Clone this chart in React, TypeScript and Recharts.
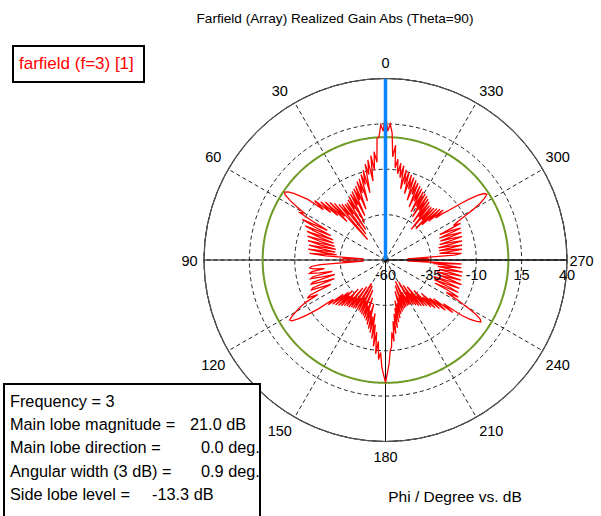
import React from 'react';
import { RadarChart, Radar, PolarGrid, PolarAngleAxis, PolarRadiusAxis } from 'recharts';

const TITLE = 'Farfield (Array) Realized Gain Abs (Theta=90)';
const LEGEND_LABEL = 'farfield (f=3) [1]';
const AXIS_CAPTION = 'Phi / Degree vs. dB';

const FREQUENCY = 3;
const MAIN_LOBE_MAGNITUDE = 21.0;
const MAIN_LOBE_DIRECTION = 0.0;
const ANGULAR_WIDTH = 0.9;
const SIDE_LOBE_LEVEL = -13.3;

const ANGLE_TICKS = [0, 30, 60, 90, 120, 150, 180, 210, 240, 270, 300, 330];
const RADIUS_TICKS = [-60, -35, -10, 15, 40];
const RADIUS_DOMAIN = [-60, 40];
const PHI_STEP = 1;

// Realized gain (dB), phi = 0..89
const gainQ1 = [
  21, 11, 14.5, 8, 7, -6, 0, -10, -2, -16,
  -4, -12, -6, -22, -9, -17, -11, -26, -13, -21,
  -14, -30, -16, -24, -17, -33, -18, -26, -19, -36,
  -20, -27, -21, -40, -22, -29, -22, -42, -21, -28,
  -20, -45, -18, -27, -16, -30, -14, -24, -12, -20,
  -9, -16, -6, -2, 2.5, 5.5, 7, 6, 2, -3,
  -8, -6, -14, -24, -9, -17, -27, -12, -19, -29,
  -14, -21, -30, -15, -22, -31, -16, -23, -32, -17,
  -24, -32, -17, -25, -33, -18, -27, -48, -37, -36,
];
// phi = 90..179
const gainQ2 = [
  -35.5, -36, -37, -48, -24, -19, -18, -20, -26, -19,
  -17.5, -23, -30, -19, -17.5, -24, -31, -18, -17, -24,
  -30, -17, -16, -22, -27, -14, -12, -18, -10, -6,
  -3, 0, 2.3, 1.5, -2, -7, -14, -24, -20, -30,
  -22, -33, -23, -35, -24, -32, -25, -38, -26, -33,
  -27, -40, -27, -34, -28, -42, -28, -35, -28.5, -45,
  -29, -36, -28.5, -44, -28, -35, -27.5, -42, -27, -33,
  -26, -38, -25, -31, -23, -35, -21, -28, -19, -30,
  -16, -24, -12, -20, -8, -15, -5, -9, -1, 3,
];
// phi = 180..269
const gainQ3 = [
  7.5, 2, -3, -10, -12, -20, -15, -26, -19, -30,
  -22, -33, -25, -37, -27, -35, -29, -42, -30, -38,
  -31, -45, -31.5, -39, -32, -47, -32, -40, -32, -37,
  -32, -46, -31, -39, -30, -43, -29, -37, -28, -41,
  -27, -34, -26, -37, -24, -31, -22, -33, -20, -28,
  -17, -26, -13, -20, -8, -3, 0.5, 2.6, 1.5, -2,
  -8, -15, -22, -15, -21, -30, -16, -22, -31, -16.5,
  -23, -32, -16, -22, -30, -17, -24, -31, -17, -23,
  -30, -17, -24, -31, -18, -25, -34, -18, -48, -37,
];
// phi = 270..359
const gainQ4 = [
  -35.5, -36, -37, -48, -22, -18, -24, -30, -17.5, -23,
  -30, -17, -23, -30, -16.5, -22, -29, -16, -21, -28,
  -15.5, -21, -28, -15, -20, -27, -14, -18, -15, -10,
  -4, 1, 4.5, 6.6, 5.5, 2, -3, -9, -15, -19,
  -24, -18, -28, -19, -32, -20, -36, -21, -30, -21.5,
  -38, -21.5, -30, -20, -34, -19, -27, -18, -32, -17.5,
  -26, -17, -30, -16, -24, -15, -28, -14, -21, -13,
  -25, -12, -19, -11, -22, -10, -17, -9, -20, -7,
  -14, -6, -12, -4, -9, 3.5, -3, 10, 15, 11,
];

const gain = [...gainQ1, ...gainQ2, ...gainQ3, ...gainQ4];
const sideLobeRef = MAIN_LOBE_MAGNITUDE + SIDE_LOBE_LEVEL;

const data = gain.map((g, i) => ({
  phi: i * PHI_STEP,
  gain: g,
  sll: sideLobeRef,
  dir: i * PHI_STEP === MAIN_LOBE_DIRECTION ? RADIUS_DOMAIN[1] : RADIUS_DOMAIN[0],
}));

const W = 601;
const H = 516;
const CX = 385.5;
const CY = 260;
const R = 181.5;
const START_ANGLE = 90;
const FONT = '"Liberation Sans", Arial, sans-serif';
// main axes (phi = 0, 90, 180, 270) drawn solid, expressed in chart angles
const MAIN_AXES = [0, 90, 180, 270].map((p) => (START_ANGLE + p) % 360);

const AngleTick = (props: any) => {
  const { x, y, payload } = props;
  const dx0 = x - CX;
  const dy0 = y - CY;
  const d = Math.hypot(dx0, dy0) || 1;
  const ux = dx0 / d;
  const uy = dy0 / d;
  const sx = Math.abs(ux) < 0.05 ? 0 : Math.sign(ux);
  const sy = Math.abs(uy) < 0.05 ? 0 : Math.sign(uy);
  let ox = 0;
  let oy = 0;
  if (sx === 0) {
    oy = sy * 15.5;
  } else if (sy === 0) {
    ox = sx * 14.5;
    oy = 1;
  } else {
    ox = sx * 15;
    oy = sy < 0 ? -12 : 14;
  }
  const px = x - ux * 8 + ox;
  const py = y - uy * 8 + oy;
  return (
    <text x={px} y={py} textAnchor="middle" dominantBaseline="central" fontFamily={FONT} fontSize={14.5} fill="#000">
      {payload.value}
    </text>
  );
};

const RadiusTick = (props: any) => {
  const { x, y, payload } = props;
  return (
    <text x={x} y={y + 15} textAnchor="middle" dominantBaseline="central" fontFamily={FONT} fontSize={14.5} fill="#000">
      {payload.value}
    </text>
  );
};

const infoLines = [
  { label: `Frequency = ${FREQUENCY}`, value: '', vx: 0 },
  { label: 'Main lobe magnitude =', value: `${MAIN_LOBE_MAGNITUDE.toFixed(1)} dB`, vx: 190 },
  { label: 'Main lobe direction =', value: `${MAIN_LOBE_DIRECTION.toFixed(1)} deg.`, vx: 201 },
  { label: 'Angular width (3 dB) =', value: `${ANGULAR_WIDTH.toFixed(1)} deg.`, vx: 201 },
  { label: 'Side lobe level =', value: `${SIDE_LOBE_LEVEL.toFixed(1)} dB`, vx: 152 },
];

export default function App() {
  return (
    <div style={{ position: 'absolute', left: 0, top: 0, width: W, height: H, background: '#fff' }}>
      <RadarChart
        width={W}
        height={H}
        data={data}
        cx={CX}
        cy={CY}
        innerRadius={0}
        outerRadius={R}
        startAngle={START_ANGLE}
        endAngle={START_ANGLE + 360}
        margin={{ top: 0, right: 0, bottom: 0, left: 0 }}
      >
        <PolarGrid gridType="circle" stroke="#222" strokeDasharray="4 3" />
        <PolarGrid gridType="circle" stroke="#111" polarAngles={MAIN_AXES} polarRadius={[R]} />
        <PolarAngleAxis
          dataKey="phi"
          type="number"
          domain={[0, 360]}
          ticks={ANGLE_TICKS}
          tick={AngleTick}
          tickLine={false}
          tickSize={8}
          axisLineType="circle"
          axisLine={{ stroke: '#555', strokeWidth: 1.2 }}
        />
        <Radar dataKey="sll" stroke="#6f9a26" strokeWidth={2} fill="none" fillOpacity={0} dot={false} isAnimationActive={false} />
        <Radar dataKey="gain" stroke="#ff0000" strokeWidth={1.3} fill="none" fillOpacity={0} dot={false} isAnimationActive={false} />
        <Radar dataKey="dir" stroke="#0a84ff" strokeWidth={3.5} fill="none" fillOpacity={0} dot={false} isAnimationActive={false} />
        <PolarRadiusAxis
          angle={0}
          type="number"
          domain={RADIUS_DOMAIN}
          ticks={RADIUS_TICKS}
          tick={RadiusTick}
          tickLine={false}
          axisLine={{ stroke: '#000' }}
        />
      </RadarChart>
      <svg width={W} height={H} style={{ position: 'absolute', left: 0, top: 0, pointerEvents: 'none' }}>
        <text x={335} y={23} textAnchor="middle" fontFamily={FONT} fontSize={13.6} fill="#000">
          {TITLE}
        </text>
        <rect x={13} y={46} width={131} height={36} fill="#fff" stroke="#000" strokeWidth={2} />
        <text x={19} y={69} fontFamily={FONT} fontSize={17} fill="#ff0000">
          {LEGEND_LABEL}
        </text>
        <rect x={4} y={384} width={256} height={145} fill="#fff" stroke="#000" strokeWidth={2} />
        {infoLines.map((l, i) => (
          <g key={l.label}>
            <text x={10} y={406.7 + i * 23.3} fontFamily={FONT} fontSize={16.3} fill="#000">
              {l.label}
            </text>
            {l.value ? (
              <text x={l.vx} y={406.7 + i * 23.3} fontFamily={FONT} fontSize={16.3} fill="#000">
                {l.value}
              </text>
            ) : null}
          </g>
        ))}
        <text x={455} y={502} textAnchor="middle" fontFamily={FONT} fontSize={15.5} fill="#000">
          {AXIS_CAPTION}
        </text>
      </svg>
    </div>
  );
}
